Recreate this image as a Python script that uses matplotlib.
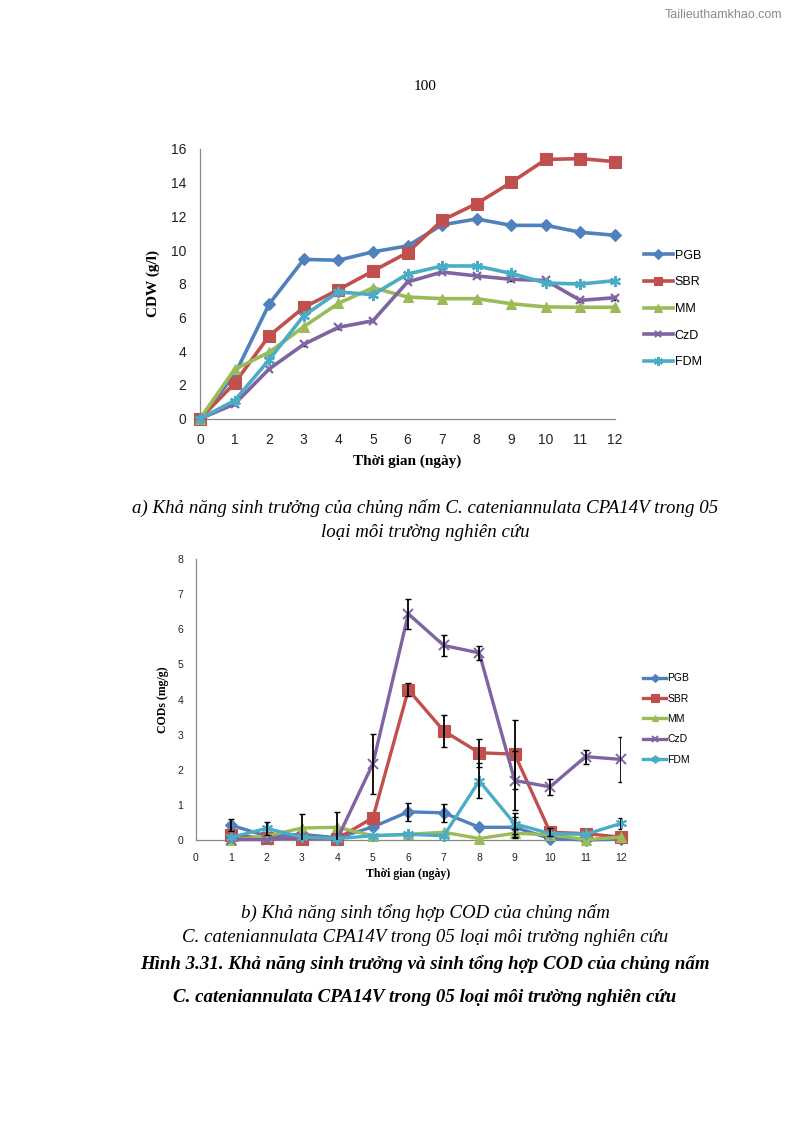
import matplotlib
matplotlib.use("Agg")
import matplotlib.pyplot as plt
import numpy as np

# ---------------- data ----------------
series = ["PGB", "SBR", "MM", "CzD", "FDM"]
colors = ["#4F81BD", "#C0504D", "#9BBB59", "#8064A2", "#4BACC6"]
markers = ["D", "s", "^", "x", (6, 2, 0)]

days_a = list(range(0, 13))
cdw_pgb = [0, 2.6, 6.8, 9.45, 9.4, 9.9, 10.25, 11.5, 11.85, 11.47, 11.47, 11.06, 10.88]
cdw_sbr = [0, 2.1, 4.92, 6.6, 7.65, 8.76, 9.85, 11.77, 12.76, 14.02, 15.38, 15.43, 15.25]
cdw_mm = [0, 2.93, 3.94, 5.46, 6.84, 7.77, 7.22, 7.12, 7.12, 6.82, 6.63, 6.61, 6.61]
cdw_czd = [0, 0.87, 2.95, 4.41, 5.42, 5.81, 8.11, 8.7, 8.47, 8.27, 8.2, 7.02, 7.18]
cdw_fdm = [0, 1.07, 3.5, 6.11, 7.52, 7.36, 8.58, 9.06, 9.06, 8.62, 8.05, 7.99, 8.19]
cdw_err = [0.05, 0.08, 0.08, 0.08, 0.08, 0.08, 0.08, 0.08, 0.08, 0.08, 0.08, 0.08, 0.12]

days_b = list(range(1, 13))
cod_pgb = [0.43, 0.12, 0.17, 0.07, 0.38, 0.81, 0.78, 0.37, 0.37, 0.05, 0.01, 0.03]
cod_sbr = [0.14, 0.06, 0.05, 0.05, 0.64, 4.28, 3.11, 2.49, 2.45, 0.23, 0.19, 0.09]
cod_mm = [0.0, 0.12, 0.35, 0.37, 0.13, 0.17, 0.23, 0.05, 0.2, 0.16, 0.02, 0.09]
cod_czd = [0.02, 0.02, 0.1, 0.05, 2.18, 6.44, 5.54, 5.33, 1.7, 1.52, 2.38, 2.3]
cod_fdm = [0.08, 0.34, 0.09, 0.05, 0.13, 0.17, 0.13, 1.69, 0.47, 0.19, 0.17, 0.48]

err_pgb = [0.17, 0.0, 0.0, 0.0, 0.0, 0.26, 0.26, 0.0, 0.3, 0.0, 0.0, 0.0]
err_sbr = [0.0, 0.0, 0.0, 0.0, 0.0, 0.18, 0.46, 0.4, 0.98, 0.12, 0.0, 0.0]
err_mm = [0.0, 0.0, 0.39, 0.43, 0.0, 0.0, 0.0, 0.0, 0.12, 0.0, 0.0, 0.0]
err_czd = [0.0, 0.0, 0.0, 0.0, 0.85, 0.42, 0.31, 0.2, 0.85, 0.22, 0.2, 0.65]
err_fdm = [0.0, 0.19, 0.0, 0.0, 0.0, 0.0, 0.0, 0.5, 0.3, 0.0, 0.0, 0.15]

x_ticks = list(range(0, 13))
ya_ticks = list(range(0, 17, 2))
yb_ticks = list(range(0, 9))

cdw = [cdw_pgb, cdw_sbr, cdw_mm, cdw_czd, cdw_fdm]
cod = [cod_pgb, cod_sbr, cod_mm, cod_czd, cod_fdm]
cod_err = [err_pgb, err_sbr, err_mm, err_czd, err_fdm]

# ---------------- figure ----------------
W, H = 794, 1123
fig = plt.figure(figsize=(W / 100, H / 100), dpi=100)
serif = "Liberation Serif"
sans = "Liberation Sans"

def fx(px):
    return px / W

def fy(py):
    return 1 - py / H

fig.text(fx(782), fy(15), "Tailieuthamkhao.com", ha="right", va="center",
         fontsize=9, color="#8a8a8a", family=sans)
fig.text(fx(425), fy(87), "100", ha="center", va="center", fontsize=11, family=serif)

def style_axes(ax, tick_fs):
    for s in ["top", "right"]:
        ax.spines[s].set_visible(False)
    for s in ["left", "bottom"]:
        ax.spines[s].set_color("#888888")
        ax.spines[s].set_linewidth(0.9)
    ax.tick_params(axis="both", which="both", length=0, labelsize=tick_fs,
                   labelcolor="#222222")
    for lab in ax.get_xticklabels() + ax.get_yticklabels():
        lab.set_family(sans)

# ---- chart a ----
axa = fig.add_axes([fx(200), fy(418.7), fx(615) - fx(200), fy(149) - fy(418.7)])
msz_a = [6, 8, 7, 6, 8]
for i in range(5):
    axa.errorbar(days_a, cdw[i], yerr=cdw_err, fmt="none", ecolor="black",
                 elinewidth=1.0, capsize=1.5, zorder=2)
for i in range(5):
    axa.plot(days_a, cdw[i], color=colors[i], marker=markers[i], markersize=msz_a[i],
             linewidth=2.6, markeredgewidth=1.6 if i >= 3 else 0.8,
             markeredgecolor=colors[i], label=series[i], zorder=3, clip_on=False)
axa.set_xlim(0, 12)
axa.set_ylim(0, 16)
axa.set_xticks(x_ticks)
axa.set_yticks(ya_ticks)
style_axes(axa, 10)
axa.tick_params(axis="x", pad=10)
axa.tick_params(axis="y", pad=10)
axa.set_xlabel("Thời gian (ngày)", family=serif, fontweight="bold", fontsize=11, labelpad=6)
axa.set_ylabel("CDW (g/l)", family=serif, fontweight="bold", fontsize=11, labelpad=8)
axa.legend(loc="center left", bbox_to_anchor=(1.043, 0.407), frameon=False,
           handlelength=2.3, labelspacing=1.17, handletextpad=0.15, markerscale=0.8,
           prop={"family": sans, "size": 9})

# ---- chart b ----
axb = fig.add_axes([fx(195.7), fy(840.3), fx(621) - fx(195.7), fy(559) - fy(840.3)])
msz_b = [6, 8, 7, 7, 8]
for i in range(5):
    e = np.array(cod_err[i])
    m = e > 0
    axb.errorbar(np.array(days_b)[m], np.array(cod[i])[m], yerr=e[m], fmt="none",
                 ecolor="black", elinewidth=1.3, capsize=2.5, zorder=4)
for i in range(5):
    axb.plot(days_b, cod[i], color=colors[i], marker=markers[i], markersize=msz_b[i],
             linewidth=2.4, markeredgewidth=1.4 if i >= 3 else 0.8,
             markeredgecolor=colors[i], label=series[i], zorder=3, clip_on=False)
axb.set_xlim(0, 12)
axb.set_ylim(0, 8)
axb.set_xticks(x_ticks)
axb.set_yticks(yb_ticks)
style_axes(axb, 7.5)
axb.tick_params(axis="x", pad=9)
axb.tick_params(axis="y", pad=9)
axb.set_xlabel("Thời gian (ngày)", family=serif, fontweight="bold", fontsize=8.5, labelpad=4)
axb.set_ylabel("CODs (mg/g)", family=serif, fontweight="bold", fontsize=8.5, labelpad=6)
axb.legend(loc="center left", bbox_to_anchor=(1.03, 0.431), frameon=False,
           handlelength=2.2, labelspacing=1.0, handletextpad=0.1, markerscale=0.7,
           prop={"family": sans, "size": 7.5})

# ---- captions ----
cap_fs = 13.6
fig.text(fx(425), fy(508), "a) Khả năng sinh trưởng của chủng nấm C. cateniannulata CPA14V trong 05",
         ha="center", va="center", fontsize=cap_fs, style="italic", family=serif)
fig.text(fx(425), fy(533), "loại môi trường nghiên cứu",
         ha="center", va="center", fontsize=cap_fs, style="italic", family=serif)
fig.text(fx(425), fy(913), "b) Khả năng sinh tổng hợp COD của chủng nấm",
         ha="center", va="center", fontsize=cap_fs, style="italic", family=serif)
fig.text(fx(425), fy(938), "C. cateniannulata CPA14V trong 05 loại môi trường nghiên cứu",
         ha="center", va="center", fontsize=cap_fs, style="italic", family=serif)
fig.text(fx(425), fy(964), "Hình 3.31. Khả năng sinh trưởng và sinh tổng hợp COD của chủng nấm",
         ha="center", va="center", fontsize=cap_fs, style="italic", fontweight="bold", family=serif)
fig.text(fx(425), fy(997), "C. cateniannulata CPA14V trong 05 loại môi trường nghiên cứu",
         ha="center", va="center", fontsize=cap_fs, style="italic", fontweight="bold", family=serif)

fig.savefig("out.png", dpi=100)
